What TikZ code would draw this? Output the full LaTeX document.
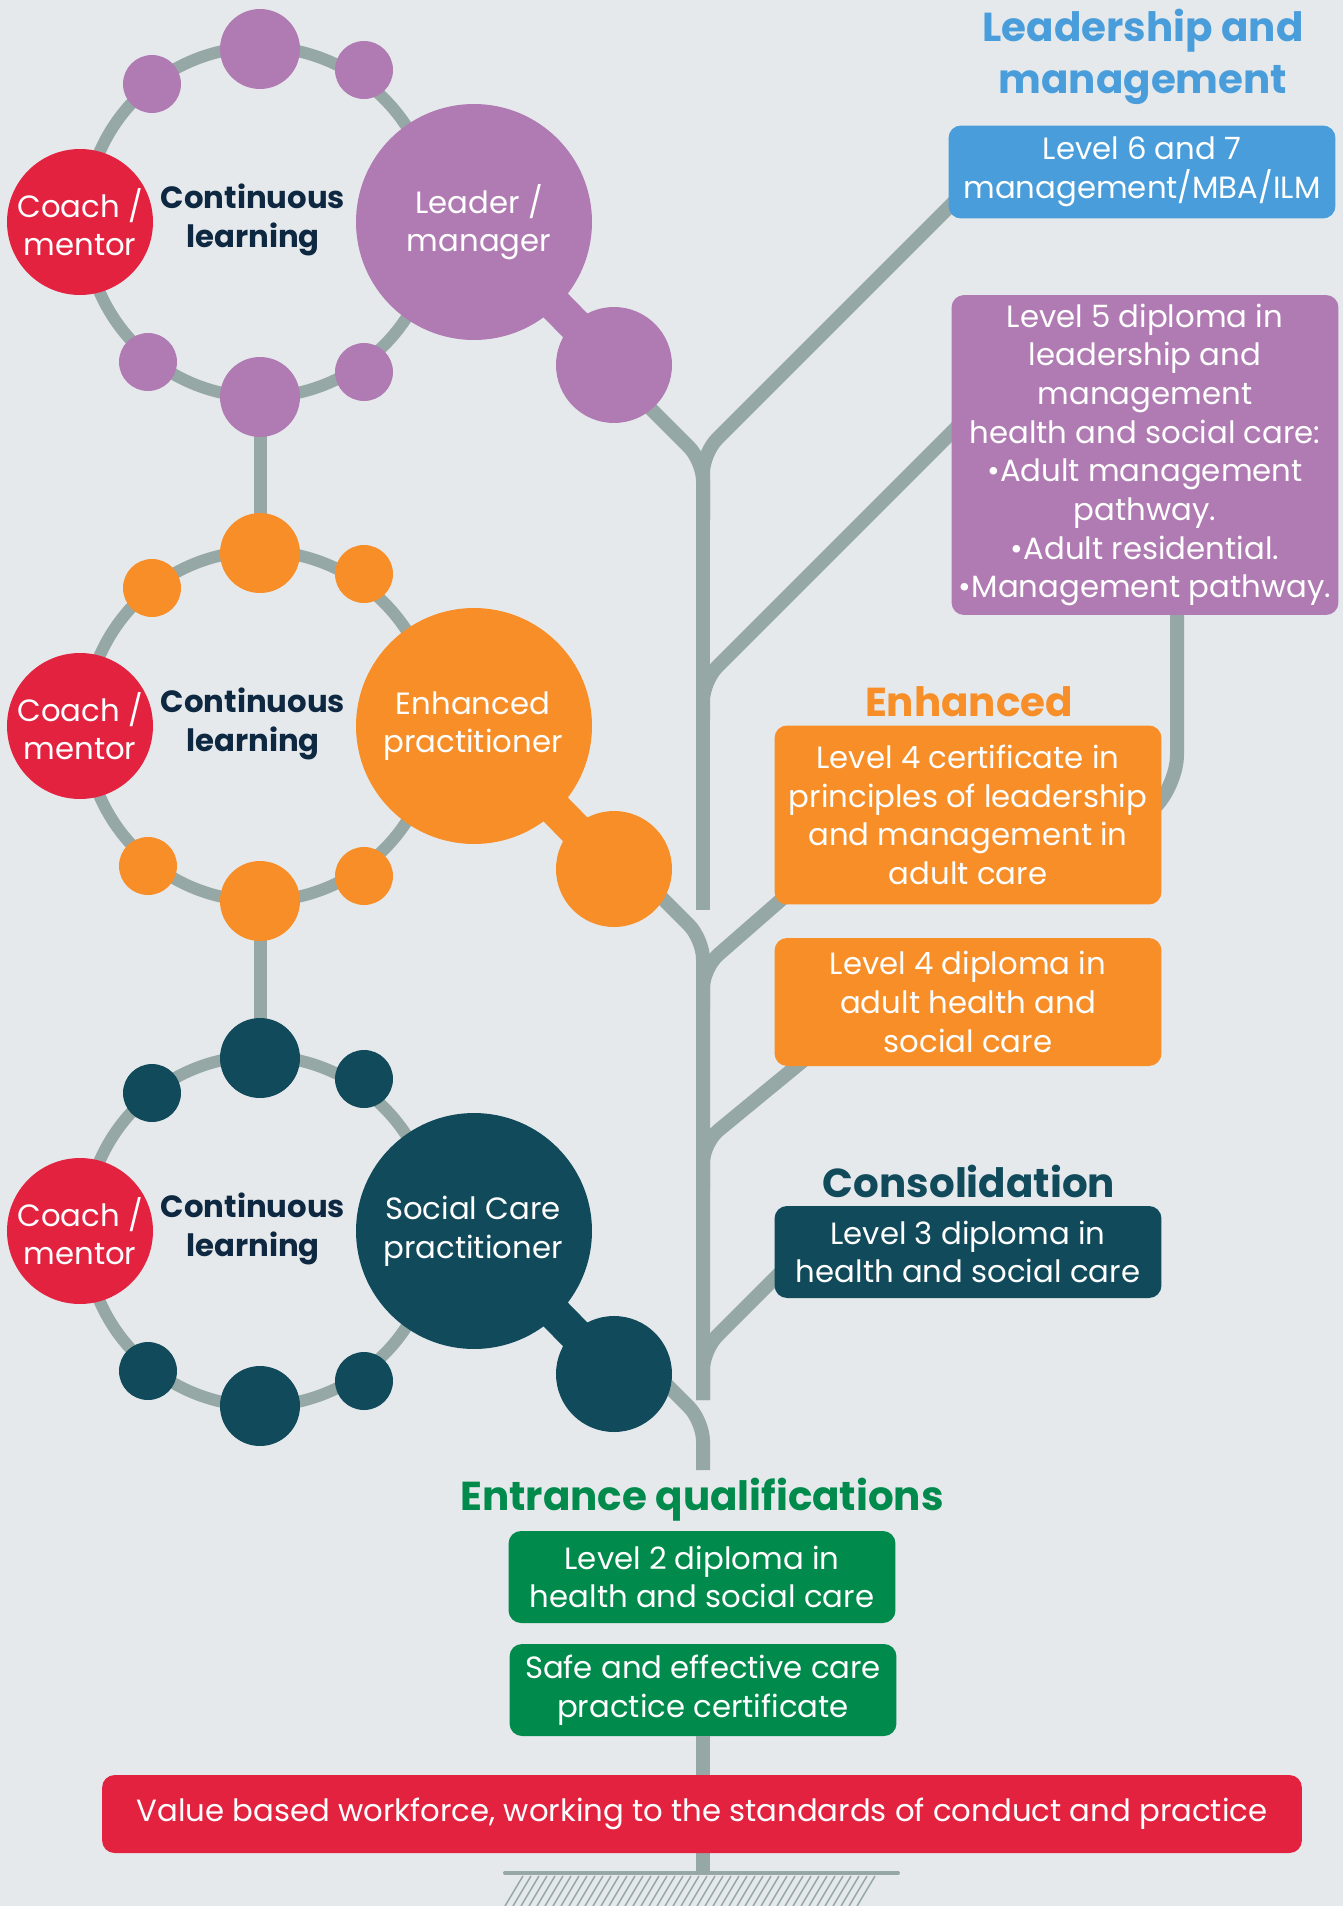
\documentclass[tikz,border=0pt]{standalone}
\usepackage{fontspec}
\setmainfont{Poppins}
\definecolor{bgc}{RGB}{229,233,236}
\definecolor{stem}{RGB}{150,168,166}
\definecolor{plum}{RGB}{176,123,178}
\definecolor{amber}{RGB}{247,142,40}
\definecolor{teal}{RGB}{17,74,91}
\definecolor{crimson}{RGB}{227,34,64}
\definecolor{sky}{RGB}{72,157,218}
\definecolor{leaf}{RGB}{0,138,75}
\definecolor{navy}{RGB}{14,40,66}
\newcommand{\txtfont}{\fontsize{17.5}{22}\selectfont}
\newcommand{\hdfont}{\fontsize{23}{30}\selectfont\bfseries}
\begin{document}
\begin{tikzpicture}[x=0.02cm, y=-0.02cm,
  trunk/.style={draw=stem, line width=0.28cm, rounded corners=0.4cm},
  link/.style={draw=stem, line width=0.26cm},
  ringc/.style={circle, draw=stem, line width=0.24cm, minimum size=7cm, inner sep=0pt},
  bub/.style={circle, fill=#1, inner sep=0pt},
  neck/.style={draw=#1, line width=0.68cm},
  lbl/.style={text=white, align=center, font=\txtfont},
  cont/.style={text=navy, align=center, font=\txtfont\bfseries},
  box/.style={fill=#1, rounded corners=0.25cm, minimum width=7.74cm, text=white, align=center, font=\txtfont, inner sep=0pt},
  head/.style={text=#1, align=center, font=\hdfont},
  hatch/.style={draw=stem, line width=0.03cm}]
\fill[bgc] (0,0) rectangle (1343,1906);
\useasboundingbox (0,0) rectangle (1343,1906);

\coordinate (sixend) at (960,196);
\coordinate (fiveend) at (960,424);
\coordinate (fourcend) at (790,892);
\coordinate (fourdend) at (810,1055);
\coordinate (threeend) at (785,1268);
\coordinate (drop) at (1177,600);
\coordinate (ground) at (703,1873);
\coordinate (groundL) at (505,1873);
\coordinate (groundR) at (898,1873);

% trunk
\draw[trunk] (703,470) -- (703,910);
\draw[trunk] (623,381) -- (703,461) -- (703,520);
\draw[trunk] (sixend) -- (703,453) -- (703,520);
\draw[trunk] (fiveend) -- (703,681) -- (703,720);
\draw[trunk] (630,866) -- (703,939) -- (703,1400);
\draw[trunk] (fourcend) -- (703,968) -- (703,1010);
\draw[trunk] (fourdend) -- (703,1143) -- (703,1190);
\draw[trunk] (threeend) -- (703,1350) -- (703,1400);
\draw[trunk] (660,1378) -- (703,1421) -- (703,1470);
\draw[trunk, rounded corners=0.6cm] (drop) -- (1177,785) -- (1150,812);

% rings
\node[ringc] (ringA) at (260,222) {};
\node[ringc] (ringB) at (260,726) {};
\node[ringc] (ringC) at (260,1231) {};
\draw[link] (260,397) -- (260,553);
\draw[link] (260,901) -- (260,1058);

% leader / manager
\node[bub=plum, minimum size=1.6cm] (topA) at (260,49) {};
\node[bub=plum, minimum size=1.6cm] (botA) at (260,397) {};
\node[bub=plum, minimum size=1.16cm] (dA1) at (152,84) {};
\node[bub=plum, minimum size=1.16cm] (dA2) at (364,70) {};
\node[bub=plum, minimum size=1.16cm] (dA3) at (148,362) {};
\node[bub=plum, minimum size=1.16cm] (dA4) at (364,372) {};
\node[bub=plum, minimum size=4.72cm] (bigA) at (474,222) {};
\node[bub=plum, minimum size=2.32cm] (blobA) at (614,365) {};
\draw[neck=plum] (bigA.center) -- (blobA.center);
\node[bub=crimson, minimum size=2.92cm] (coachA) at (80,222) {};
\node[lbl] (coachAt) at (coachA) {Coach /\\mentor};
\node[cont] (contA) at (253,220) {Continuous\\learning};
\node[lbl] (bigAt) at (479,222) {Leader /\\manager};

% enhanced practitioner
\node[bub=amber, minimum size=1.6cm] (topB) at (260,553) {};
\node[bub=amber, minimum size=1.6cm] (botB) at (260,901) {};
\node[bub=amber, minimum size=1.16cm] (dB1) at (152,588) {};
\node[bub=amber, minimum size=1.16cm] (dB2) at (364,574) {};
\node[bub=amber, minimum size=1.16cm] (dB3) at (148,866) {};
\node[bub=amber, minimum size=1.16cm] (dB4) at (364,876) {};
\node[bub=amber, minimum size=4.72cm] (bigB) at (474,726) {};
\node[bub=amber, minimum size=2.32cm] (blobB) at (614,869) {};
\draw[neck=amber] (bigB.center) -- (blobB.center);
\node[bub=crimson, minimum size=2.92cm] (coachB) at (80,726) {};
\node[lbl] (coachBt) at (coachB) {Coach /\\mentor};
\node[cont] (contB) at (253,724) {Continuous\\learning};
\node[lbl] (bigBt) at (473,726) {Enhanced\\practitioner};

% social care practitioner
\node[bub=teal, minimum size=1.6cm] (topC) at (260,1058) {};
\node[bub=teal, minimum size=1.6cm] (botC) at (260,1406) {};
\node[bub=teal, minimum size=1.16cm] (dC1) at (152,1093) {};
\node[bub=teal, minimum size=1.16cm] (dC2) at (364,1079) {};
\node[bub=teal, minimum size=1.16cm] (dC3) at (148,1371) {};
\node[bub=teal, minimum size=1.16cm] (dC4) at (364,1381) {};
\node[bub=teal, minimum size=4.72cm] (bigC) at (474,1231) {};
\node[bub=teal, minimum size=2.32cm] (blobC) at (614,1374) {};
\draw[neck=teal] (bigC.center) -- (blobC.center);
\node[bub=crimson, minimum size=2.92cm] (coachC) at (80,1231) {};
\node[lbl] (coachCt) at (coachC) {Coach /\\mentor};
\node[cont] (contC) at (253,1229) {Continuous\\learning};
\node[lbl] (bigCt) at (473,1231) {Social Care\\practitioner};

% qualifications
\node[head=sky] (hlead) at (1143,57) {Leadership and\\management};
\node[box=sky, minimum height=1.86cm] (lvsix) at (1142,172) {Level 6 and 7\\management/MBA/ILM};
\node[box=plum, minimum height=6.4cm] (lvfive) at (1145,455) {Level 5 diploma in\\leadership and\\management\\health and social care:\\•Adult management\\pathway.\\•Adult residential.\\•Management pathway.};
\node[head=amber] (henh) at (969,702) {Enhanced};
\node[box=amber, minimum height=3.58cm] (lvfourc) at (968,815) {Level 4 certificate in\\principles of leadership\\and management in\\adult care};
\node[box=amber, minimum height=2.56cm] (lvfourd) at (968,1002) {Level 4 diploma in\\adult health and\\social care};
\node[head=teal] (hcons) at (969,1181) {Consolidation};
\node[box=teal, minimum height=1.84cm] (lvthree) at (968,1252) {Level 3 diploma in\\health and social care};
\node[head=leaf] (hentr) at (702,1500) {Entrance qualifications};
\node[box=leaf, minimum height=1.84cm] (lvtwo) at (702,1577) {Level 2 diploma in\\health and social care};
\node[box=leaf, minimum height=1.84cm] (safe) at (703,1690) {Safe and effective care\\practice certificate};

% base
\draw[trunk] (safe.south) -- (ground);
\node[box=crimson, minimum width=24cm, minimum height=1.56cm] (value) at (702,1814) {Value based workforce, working to the standards of conduct and practice};
\draw[draw=stem, line width=0.08cm, line cap=round] (groundL) -- (groundR);
\foreach \i in {0,...,44}
  \draw[hatch] ({505+8*\i},1906) -- ++(18,-30);
\end{tikzpicture}
\end{document}
